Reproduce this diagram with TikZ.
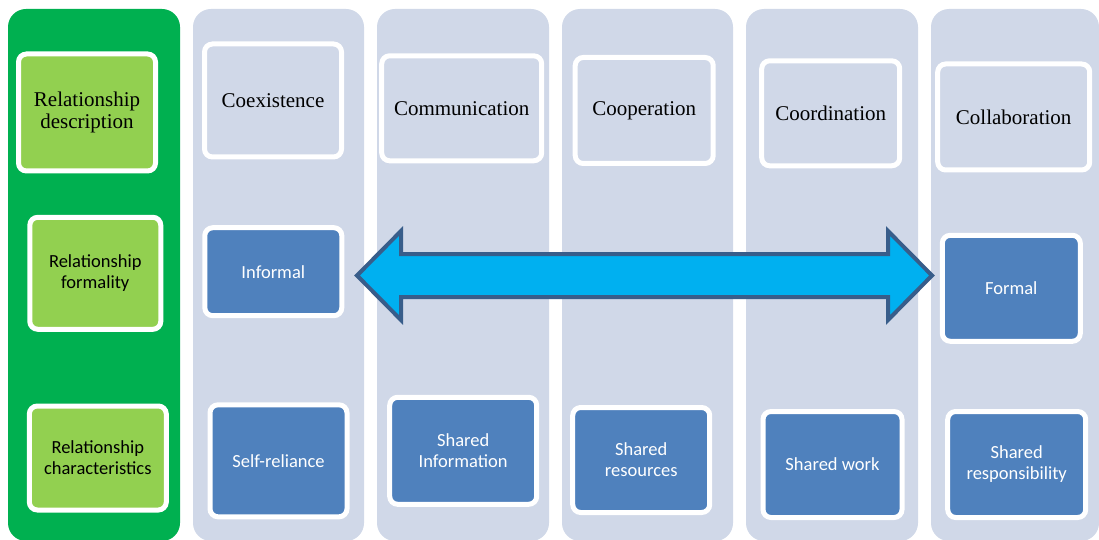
\documentclass[tikz,border=0pt]{standalone}
\usepackage{fontspec}
\setmainfont{Liberation Serif}
\newfontfamily\calibri{Carlito}
\definecolor{colgreen}{RGB}{0,176,80}
\definecolor{boxgreen}{RGB}{146,208,80}
\definecolor{colgrey}{RGB}{208,216,232}
\definecolor{boxblue}{RGB}{79,129,189}
\definecolor{arrowfill}{RGB}{0,176,240}
\definecolor{arrowline}{RGB}{56,93,138}
\usepackage{tikz}

\begin{document}
\begin{tikzpicture}[x=1pt,y=-1pt]

%
% Styles
%
\tikzstyle{column}   = [rounded corners=18pt]
\tikzstyle{box}      = [rectangle,rounded corners=8pt,draw=white,line width=5pt,inner sep=0pt,align=center]
\tikzstyle{descbox}  = [box,fill=colgrey,font=\fontsize{21pt}{22pt}\selectfont]
\tikzstyle{labelbox} = [box,fill=boxgreen,font=\calibri\fontsize{18.5pt}{21pt}\selectfont]
\tikzstyle{bluebox}  = [box,fill=boxblue,text=white,font=\calibri\fontsize{18.5pt}{21pt}\selectfont]
\tikzstyle{bigarrow} = [fill=arrowfill,draw=arrowline,line width=4pt,line join=miter]

\useasboundingbox (0,0) rectangle (1099,540);

% columns
\fill[column,colgreen] (8,9)     rectangle (180,541);
\fill[column,colgrey]  (193,9)   rectangle (364,541);
\fill[column,colgrey]  (377,9)   rectangle (549,541);
\fill[column,colgrey]  (562,9)   rectangle (733,541);
\fill[column,colgrey]  (746,9)   rectangle (918,541);
\fill[column,colgrey]  (931,9)   rectangle (1099,541);

% left column
\node[descbox,fill=boxgreen,minimum width=137pt,minimum height=117pt] (desc) at (87,112.5)
  {Relationship\\description};
\node[labelbox,minimum width=131pt,minimum height=112pt] (formality) at (95.3,273.3)
  {Relationship\\formality};
\node[labelbox,minimum width=137pt,minimum height=104pt] (traits) at (97.8,458)
  {Relationship\\characteristics};

% top row
\node[descbox,minimum width=137pt,minimum height=113pt] (coexist) at (273,100.5)   {Coexistence};
\node[descbox,minimum width=160pt,minimum height=105pt] (commun)  at (461.7,108.3) {Communication};
\node[descbox,minimum width=138pt,minimum height=106pt] (cooper)  at (644.2,110.5) {Cooperation};
\node[descbox,minimum width=138pt,minimum height=105pt] (coord)   at (830.7,113.3) {Coordination};
\node[descbox,minimum width=152pt,minimum height=106pt] (collab)  at (1013.7,117)  {Collaboration};

% middle row
\node[bluebox,minimum width=137pt,minimum height=88pt]  (informal) at (273.3,271.7)  {Informal};
\node[bluebox,minimum width=138pt,minimum height=106pt] (formal)   at (1011.3,288.3) {Formal};

% bottom row
\node[bluebox,minimum width=137pt,minimum height=112pt] (selfrel)  at (278.5,460.8)  {Self-reliance};
\node[bluebox,minimum width=147pt,minimum height=107pt] (sharinfo) at (463.2,450.8)  {Shared\\Information};
\node[bluebox,minimum width=137pt,minimum height=105pt] (sharres)  at (641.2,460)    {Shared\\resources};
\node[bluebox,minimum width=139pt,minimum height=106pt] (sharwork) at (832.5,464.5)  {Shared work};
\node[bluebox,minimum width=138pt,minimum height=106pt] (sharresp) at (1016.7,464.5) {Shared\\responsibility};

% formality scale
\draw[bigarrow] (357,275.5) -- (401,231) -- (401,254) -- (888,254) -- (888,231)
  -- (932,275.5) -- (888,320) -- (888,297) -- (401,297) -- (401,320) -- cycle;

\end{tikzpicture}
\end{document}
